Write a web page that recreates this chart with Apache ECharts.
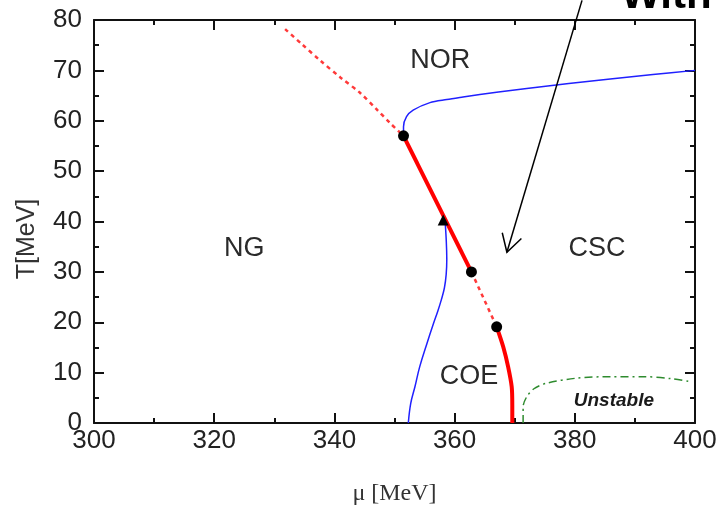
<!DOCTYPE html>
<html>
<head>
	<meta charset="utf-8">
	<title>Phase diagram</title>
	<script src="https://cdn.jsdelivr.net/npm/echarts@6/dist/echarts.min.js"></script>
	<style type="text/css">
		html, body { margin: 0; padding: 0; background: #fff; }
		#main { width: 721px; height: 505px; }
	</style>
</head>
<body>
	<div id="main"></div>
	<script type="text/javascript">
		// tick values
		var xTicks = [300, 320, 340, 360, 380, 400];
		var yTicks = [0, 10, 20, 30, 40, 50, 60, 70, 80];

		// red first-order line, split into solid / dashed parts
		var redDashTop = [[331.8, 78.2], [334.5, 75.3], [337.6, 72.0], [341.0, 68.6], [344.3, 65.5], [347.0, 62.3], [349.3, 59.5], [351.5, 57.0]];
		var redSolidTop = [[351.5, 57.0], [362.8, 30.0]];
		var redDashMid = [[362.8, 30.0], [367.0, 19.1]];
		var redSolidLow = [[367.0, 19.1], [368.1, 15.1], [368.9, 11.2], [369.5, 7.2], [369.6, 3.5], [369.6, 0]];

		// blue second-order lines
		var blueTop = [[351.5, 57.0], [351.5, 58.8], [352.0, 60.8], [353.1, 62.1], [355.9, 63.6], [358.7, 64.2], [361.4, 64.7], [364.2, 65.2], [367.3, 65.7], [372.0, 66.4], [379.0, 67.4], [385.9, 68.3], [393.0, 69.2], [400, 70.0]];
		var blueLow = [[358.4, 40.3], [358.6, 36.5], [358.7, 32.5], [358.6, 29.5], [358.3, 26.8], [357.8, 24.5], [357.2, 22.2], [356.5, 19.8], [355.4, 15.8], [354.2, 11.2], [353.4, 7.2], [352.7, 3.9], [352.3, 0]];

		// green unstable boundary
		var greenLine = [[371.4, 0], [371.4, 3.2], [372.0, 5.2], [373.2, 6.8], [375.3, 7.9], [380.3, 8.9], [385.9, 9.2], [391.4, 9.2], [396.0, 8.8], [399.2, 8.2]];

		// special points
		var dots = [[351.5, 57.0], [362.8, 30.0], [367.0, 19.1]];
		var triangles = [[358.1, 40.3]];

		// region labels
		var regionNames = ['NOR', 'NG', 'CSC', 'COE'];
		var regionPos = [[357.6, 72.0], [325.0, 34.7], [383.7, 34.7], [362.4, 9.3]];
		var unstablePos = [386.5, 4.4];

		// annotation arrow (start, tip) in data units
		var arrowStart = [381.2, 83.9];
		var arrowTip = [368.7, 33.9];

		var myChart = echarts.init(document.getElementById('main'));

		var frameLine = { color: '#111', width: 2 };
		var xAxisBase = {
			type: 'value', min: 300, max: 400, interval: 20,
			axisLine: { show: true, onZero: false, lineStyle: frameLine },
			axisTick: { show: true, inside: true, length: 10, lineStyle: frameLine },
			minorTick: { show: true, splitNumber: 2, length: 5, lineStyle: frameLine },
			splitLine: { show: false }
		};
		var yAxisBase = {
			type: 'value', min: 0, max: 80, interval: 10,
			axisLine: { show: true, onZero: false, lineStyle: frameLine },
			axisTick: { show: true, inside: true, length: 10, lineStyle: frameLine },
			minorTick: { show: true, splitNumber: 2, length: 5, lineStyle: frameLine },
			splitLine: { show: false }
		};

		var regionData = [];
		for (var i = 0; i < regionNames.length; i++) {
			regionData.push({ name: regionNames[i], value: regionPos[i] });
		}

		function lineSeries(data, color, width, type, smooth) {
			return {
				type: 'line', data: data, showSymbol: false, symbol: 'none',
				smooth: smooth, animation: false, silent: true,
				lineStyle: { color: color, width: width, type: type }
			};
		}

		var option = {
			animation: false,
			grid: { left: 94, right: 26, top: 20, bottom: 82, containLabel: false, outerBoundsMode: 'none' },
			xAxis: [
				Object.assign({}, xAxisBase, {
					position: 'bottom',
					axisLabel: { fontSize: 26, color: '#222', margin: 5, fontFamily: 'Liberation Sans' },
					name: 'μ [MeV]', nameLocation: 'middle', nameGap: 59,
					nameTextStyle: { fontFamily: 'Liberation Serif', fontSize: 24, color: '#333' }
				}),
				Object.assign({}, xAxisBase, { position: 'top', axisLabel: { show: false } })
			],
			yAxis: [
				Object.assign({}, yAxisBase, {
					position: 'left',
					axisLabel: { fontSize: 26, color: '#222', margin: 12, fontFamily: 'Liberation Sans' },
					name: 'T[MeV]', nameLocation: 'middle', nameGap: 54,
					nameTextStyle: { fontFamily: 'Liberation Sans', fontSize: 25, color: '#333', padding: [0, 35, 0, 0] }
				}),
				Object.assign({}, yAxisBase, { position: 'right', axisLabel: { show: false } })
			],
			series: [
				lineSeries(redDashTop, '#ff3a3a', 2.5, [4, 4], 0.3),
				lineSeries(redSolidTop, '#ff0000', 4, 'solid', 0),
				lineSeries(redDashMid, '#ff3a3a', 2.5, [4, 4], 0),
				lineSeries(redSolidLow, '#ff0000', 4, 'solid', 0.3),
				lineSeries(blueTop, '#2020ff', 1.5, 'solid', 0.3),
				lineSeries(blueLow, '#2020ff', 1.5, 'solid', 0.4),
				lineSeries(greenLine, '#2e8b2e', 1.5, [8, 4, 2, 4], 0.3),
				{
					type: 'scatter', data: dots, symbol: 'circle', symbolSize: 11,
					itemStyle: { color: '#000', opacity: 1 }, silent: true, z: 5
				},
				{
					type: 'scatter', data: triangles, symbol: 'triangle', symbolSize: 11,
					itemStyle: { color: '#000', opacity: 1 }, silent: true, z: 5
				},
				{
					type: 'scatter', data: regionData, symbolSize: 0, silent: true,
					itemStyle: { opacity: 1 },
					label: {
						show: true, position: 'inside', formatter: '{b}',
						fontFamily: 'Liberation Sans', fontSize: 27, color: '#2a2a2a'
					}
				},
				{
					type: 'scatter', data: [{ name: 'Unstable', value: unstablePos }], symbolSize: 0, silent: true,
					itemStyle: { opacity: 1 },
					label: {
						show: true, position: 'inside', formatter: '{b}',
						fontFamily: 'Liberation Sans', fontSize: 19, fontWeight: 'bold', fontStyle: 'italic', color: '#1a1a1a'
					}
				}
			]
		};
		myChart.setOption(option);

		// annotation arrow and cut-off heading, placed via the axes
		var p0 = myChart.convertToPixel({ xAxisIndex: 0, yAxisIndex: 0 }, arrowStart);
		var p1 = myChart.convertToPixel({ xAxisIndex: 0, yAxisIndex: 0 }, arrowTip);
		var ang = Math.atan2(p0[1] - p1[1], p0[0] - p1[0]);
		var wing = 20, spread = 30 * Math.PI / 180;
		var w1 = [p1[0] + wing * Math.cos(ang - spread), p1[1] + wing * Math.sin(ang - spread)];
		var w2 = [p1[0] + wing * Math.cos(ang + spread), p1[1] + wing * Math.sin(ang + spread)];
		var arrowStyle = { stroke: '#000', lineWidth: 1.5, fill: null };

		myChart.setOption({
			graphic: [
				{ type: 'polyline', shape: { points: [p0, p1] }, style: arrowStyle, z: 10 },
				{ type: 'polyline', shape: { points: [w1, p1, w2] }, style: arrowStyle, z: 10 },
				{
					type: 'text', x: 621, y: 17, z: 10,
					style: {
						text: 'With', fill: '#000', verticalAlign: 'bottom',
						font: 'bold 42px "Liberation Sans"'
					}
				}
			]
		});
	</script>
</body>
</html>
